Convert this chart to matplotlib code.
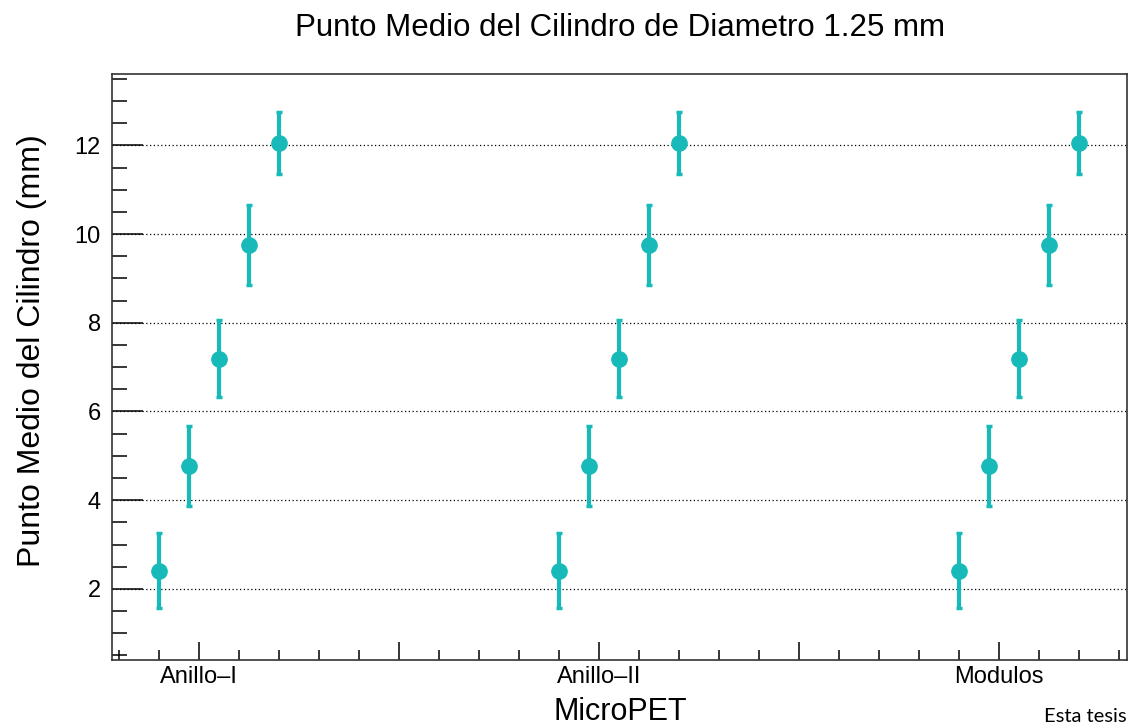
import numpy as np
import matplotlib
matplotlib.use("Agg")
import matplotlib.pyplot as plt
from matplotlib.ticker import MultipleLocator, FixedLocator

plt.rcParams['font.family'] = ['Liberation Sans', 'DejaVu Sans']

# datos
grupos = ["Anillo\u2013I", "Anillo\u2013II", "Modulos"]
desplazamiento = [0.4, 0.475, 0.55, 0.625, 0.7]
punto_anillo1 = [2.41, 4.77, 7.19, 9.76, 12.05]
punto_anillo2 = [2.41, 4.77, 7.19, 9.76, 12.05]
punto_modulos = [2.41, 4.77, 7.19, 9.76, 12.05]
error_punto = [0.85, 0.90, 0.87, 0.90, 0.70]
etiquetas_x = ["Anillo\u2013I", "", "Anillo\u2013II", "", "Modulos"]
ticks_x = [0.5, 1.0, 1.5, 2.0, 2.5]

color = '#17b9b9'

fig = plt.figure(figsize=(11.35, 7.28), dpi=100)
ax = fig.add_axes([112 / 1135, 68 / 728, 1015 / 1135, 586 / 728])

for i, valores in enumerate([punto_anillo1, punto_anillo2, punto_modulos]):
    xs = np.array(desplazamiento) + i
    ax.errorbar(xs, valores, yerr=error_punto, fmt='o', color=color,
                markersize=11, elinewidth=3, capsize=2, capthick=2.5,
                zorder=3)

ax.set_xlim(0.2825, 2.82)
ax.set_ylim(0.396, 13.61)

ax.xaxis.set_major_locator(FixedLocator(ticks_x))
ax.set_xticklabels(etiquetas_x)
ax.xaxis.set_minor_locator(MultipleLocator(0.1))
ax.yaxis.set_major_locator(MultipleLocator(2))
ax.yaxis.set_minor_locator(MultipleLocator(0.5))

ax.tick_params(axis='x', which='major', direction='in', length=13, width=1.1,
               labelsize=17, pad=4, top=False)
ax.tick_params(axis='x', which='minor', direction='in', length=7, width=1.1,
               top=False)
ax.tick_params(axis='y', which='major', direction='in', length=22, width=1.1,
               labelsize=17, pad=8, right=False)
ax.tick_params(axis='y', which='minor', direction='in', length=11, width=1.1,
               right=False)

ax.grid(axis='y', which='major', linestyle=(0, (1, 2)), color='black',
        linewidth=0.9)

for s in ax.spines.values():
    s.set_linewidth(1.2)
    s.set_color('#333333')

fig.text(620 / 1135, 1 - 28 / 728, "Punto Medio del Cilindro de Diametro 1.25 mm",
         ha='center', va='center', fontsize=22.5)
fig.text(620 / 1135, 1 - 712 / 728, "MicroPET", ha='center', va='center',
         fontsize=22)
fig.text(32 / 1135, 1 - 351 / 728, "Punto Medio del Cilindro (mm)", ha='center',
         va='center', rotation=90, fontsize=23)
fig.text(1127 / 1135, 1 - 717 / 728, "Esta tesis", ha='right', va='center',
         fontsize=14.5, family=['Lato', 'DejaVu Sans'])

fig.savefig('out.png', dpi=100)
